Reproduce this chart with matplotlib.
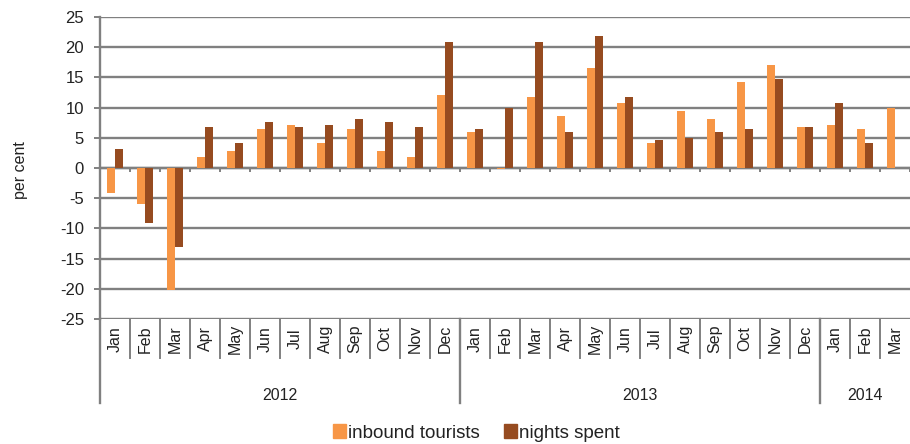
import numpy as np
import matplotlib
matplotlib.use("Agg")
import matplotlib.pyplot as plt
from matplotlib.transforms import blended_transform_factory
from matplotlib.patches import Patch

plt.rcParams['font.family'] = ['Liberation Sans', 'DejaVu Sans']
plt.rcParams['axes.unicode_minus'] = False
plt.rcParams['text.color'] = "#222222"

months = ["Jan", "Feb", "Mar", "Apr", "May", "Jun", "Jul", "Aug", "Sep", "Oct", "Nov", "Dec",
          "Jan", "Feb", "Mar", "Apr", "May", "Jun", "Jul", "Aug", "Sep", "Oct", "Nov", "Dec",
          "Jan", "Feb", "Mar"]
years = ["2012", "2013", "2014"]
year_len = [12, 12, 3]

inbound = [-4.1, -6.0, -20.2, 1.9, 2.8, 6.4, 7.2, 4.1, 6.4, 2.8, 1.9, 12.1,
           5.9, -0.1, 11.7, 8.6, 16.5, 10.8, 4.1, 9.4, 8.1, 14.3, 17.0, 6.8,
           7.2, 6.4, 9.9]
nights = [3.2, -9.1, -13.1, 6.8, 4.1, 7.6, 6.8, 7.2, 8.1, 7.6, 6.8, 20.9,
          6.4, 9.9, 20.9, 5.9, 21.8, 11.7, 4.6, 5.0, 5.9, 6.4, 14.8, 6.8,
          10.8, 4.1, np.nan]

c_in = "#F79646"
c_ni = "#964B20"
grid_c = "#808080"

fig = plt.figure(figsize=(9.10, 4.44), dpi=100)
ax = fig.add_axes([100/910, 1-319/444, 810/910, 302/444])

x = np.arange(len(months))
w = 0.27
ax.bar(x - w/2, inbound, w, color=c_in, zorder=3)
ax.bar(x + w/2, nights, w, color=c_ni, zorder=3)

ax.set_xlim(-0.5, len(months) - 0.5)
ax.set_ylim(-25, 25)
ax.set_yticks(np.arange(-25, 26, 5))
ax.yaxis.grid(True, color=grid_c, linewidth=1.7, zorder=1)
ax.set_axisbelow(True)

for s in ["top", "right"]:
    ax.spines[s].set_visible(False)
ax.spines["left"].set_color(grid_c)
ax.spines["left"].set_linewidth(1.7)
# category axis crosses at zero
ax.spines["bottom"].set_position(("data", 0))
ax.spines["bottom"].set_color(grid_c)
ax.spines["bottom"].set_linewidth(1.7)
ax.set_xticks(np.arange(-0.5, len(months), 1))
ax.set_xticklabels([])
ax.tick_params(axis="x", direction="out", length=3, width=1.4, color=grid_c)
ax.tick_params(axis="y", direction="out", length=4.5, width=1.4, color=grid_c,
               labelsize=12, pad=7, labelcolor="#222222")
fig.text(20/910, 1-170/444, "per cent", rotation=90, ha="center", va="center",
         fontsize=11.5)

# multi-level category labels below the plot
tr = blended_transform_factory(ax.transData, ax.transAxes)
month_h = -39/302
year_h = -84/302
for i, m in enumerate(months):
    ax.text(i, -20/302, m, transform=tr, rotation=90, ha="center", va="center",
            fontsize=11.5, clip_on=False)
for b in np.arange(0.5, len(months) - 1, 1):
    ax.plot([b, b], [0, month_h], transform=tr, color=grid_c, lw=1.4, clip_on=False)
start = 0
bounds = [-0.5]
for y, n in zip(years, year_len):
    ax.text(start + (n - 1)/2, -76/302, y, transform=tr, ha="center", va="center",
            fontsize=11.5, clip_on=False)
    start += n
    bounds.append(start - 0.5)
for b in bounds[:-1]:
    ax.plot([b, b], [0, year_h], transform=tr, color=grid_c, lw=1.7, clip_on=False)

handles = [Patch(color=c_in, label="inbound tourists"),
           Patch(color=c_ni, label="nights spent")]
fig.legend(handles=handles, loc="center", bbox_to_anchor=(476/910, 1-433/444),
           ncol=2, frameon=False, fontsize=13.5, handlelength=0.7, handleheight=0.7,
           handletextpad=0.1, columnspacing=1.3, borderpad=0)

fig.savefig("out.png", dpi=100)
